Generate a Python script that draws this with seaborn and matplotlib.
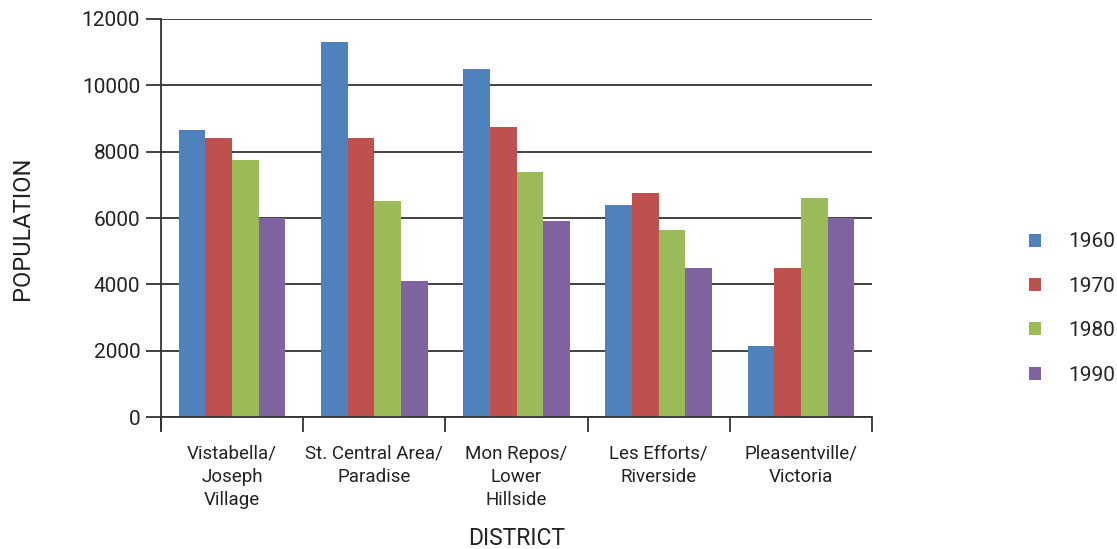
import matplotlib
matplotlib.use("Agg")
import matplotlib.pyplot as plt
from matplotlib.patches import Patch
import seaborn as sns
import pandas as pd
import numpy as np

districts = ["Vistabella/\nJoseph\nVillage", "St. Central Area/\nParadise",
             "Mon Repos/\nLower\nHillside", "Les Efforts/\nRiverside",
             "Pleasentville/\nVictoria"]
years = ["1960", "1970", "1980", "1990"]
pop_1960 = [8650, 11300, 10500, 6400, 2150]
pop_1970 = [8400, 8400, 8750, 6750, 4500]
pop_1980 = [7750, 6500, 7400, 5650, 6600]
pop_1990 = [6000, 4100, 5900, 4500, 6000]
y_ticks = [0, 2000, 4000, 6000, 8000, 10000, 12000]
colors = ["#4F81BD", "#C0504D", "#9BBB59", "#8064A2"]

series = [pop_1960, pop_1970, pop_1980, pop_1990]
df = pd.DataFrame({
    "district": [d for _ in years for d in districts],
    "year": [y for y in years for _ in districts],
    "population": [v for s in series for v in s],
})

sns.set_theme(style="white")
plt.rcParams["font.family"] = ["Roboto", "DejaVu Sans"]

fig = plt.figure(figsize=(11.17, 5.49), dpi=100)
ax = fig.add_axes([0.1441, 0.2404, 0.6366, 0.725])

sns.barplot(data=df, x="district", y="population", hue="year",
            order=districts, hue_order=years, palette=colors,
            width=0.75, gap=0, saturation=1, legend=False, ax=ax,
            linewidth=0, errorbar=None)

text_color = "#222222"
grid_color = "#333333"
ax.set_ylim(0, 12000)
ax.set_xlim(-0.5, 4.5)
ax.set_yticks(y_ticks)
ax.set_yticklabels([str(v) for v in y_ticks], fontsize=15, color=text_color)
ax.yaxis.grid(True, color=grid_color, linewidth=1.3)
ax.set_axisbelow(True)

for side in ["top", "right"]:
    ax.spines[side].set_visible(False)
for side in ["left", "bottom"]:
    ax.spines[side].set_visible(True)
    ax.spines[side].set_color(grid_color)
    ax.spines[side].set_linewidth(1.3)
ax.spines["left"].set_bounds(-400, 12000)

ax.tick_params(axis="y", which="major", left=True, length=11, width=1.3,
               color=grid_color, pad=4)
ax.set_xticks(range(len(districts)))
ax.set_xticklabels(districts, fontsize=13.5, color=text_color, linespacing=1.35)
ax.set_xticks(np.arange(-0.5, len(districts), 1.0), minor=True)
ax.tick_params(axis="x", which="major", bottom=False, length=0, pad=20)
ax.tick_params(axis="x", which="minor", bottom=True, length=11, width=1.3,
               color=grid_color)

ax.set_xlabel("DISTRICT", fontsize=16.5, color=text_color, labelpad=13)
ax.set_ylabel("POPULATION", fontsize=17, color=text_color)
ax.yaxis.set_label_coords(-0.178, 0.475)

handles = [Patch(facecolor=c, edgecolor="none", label=y)
           for c, y in zip(colors, years)]
fig.legend(handles=handles, loc="center left", bbox_to_anchor=(0.921, 0.438),
           frameon=False, fontsize=15, handlelength=0.58, handleheight=0.58,
           handletextpad=1.3, labelspacing=1.22, borderaxespad=0, borderpad=0)

fig.savefig("out.png", dpi=100)
